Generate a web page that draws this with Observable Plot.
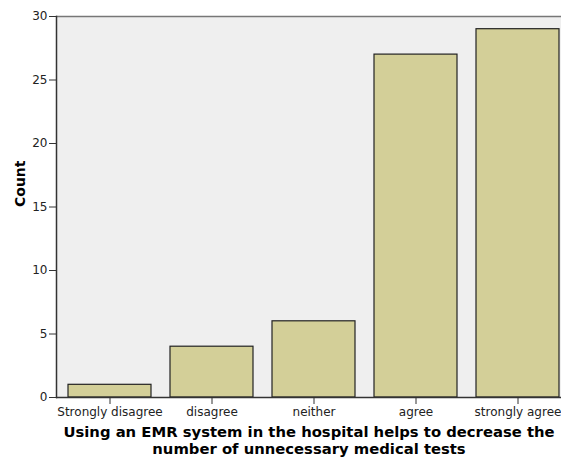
<!DOCTYPE html>
<html>
<head>
<meta charset="utf-8">
<script src="https://cdn.jsdelivr.net/npm/d3@7"></script>
<script src="https://cdn.jsdelivr.net/npm/@observablehq/plot@0.6"></script>
<style>
  html, body { margin: 0; padding: 0; background: #ffffff; }
  svg { display: block; }
</style>
</head>
<body>
<div id="chart"></div>
<script>
const categories = ["Strongly disagree", "disagree", "neither", "agree", "strongly agree"];
const counts = [1, 4, 6, 27, 29];
const yTicks = [0, 5, 10, 15, 20, 25, 30];
const xTitle = "Using an EMR system in the hospital helps to decrease the\nnumber of unnecessary medical tests";
const yTitle = "Count";

const data = categories.map((c, i) => ({category: c, count: counts[i]}));

const chart = Plot.plot({
  width: 561,
  height: 459,
  marginTop: 16,
  marginBottom: 62,
  marginLeft: 56,
  marginRight: 0,
  style: {fontFamily: "DejaVu Sans, sans-serif", fontSize: "12px", color: "#222", background: "#ffffff"},
  x: {domain: categories, range: [56, 571], paddingInner: 0.19, paddingOuter: 0.1, label: null},
  y: {domain: [0, 30], label: null},
  marks: [
    Plot.frame({fill: "#efefef", stroke: null}),
    Plot.ruleY([30], {stroke: "#777", strokeWidth: 1.5}),
    Plot.barY(data, {x: "category", y: "count", fill: "#d3cf98", stroke: "#222", strokeWidth: 1.2}),
    Plot.frame({anchor: "left", stroke: "#333", strokeWidth: 1.5}),
    Plot.ruleY([0], {stroke: "#333", strokeWidth: 1.5}),
    Plot.axisY({ticks: yTicks, tickSize: 7, tickPadding: 2, stroke: "#333", fontSize: 12, label: null}),
    Plot.axisX({tickSize: 7, tickPadding: 3, stroke: "#333", fontSize: 12, label: null}),
    Plot.text([xTitle], {frameAnchor: "bottom", dy: 56, fontSize: 14.8, fontWeight: "bold", lineHeight: 1.1, textAnchor: "middle", fill: "#000"}),
    Plot.text([yTitle], {frameAnchor: "left", dx: -36, rotate: -90, fontSize: 14, fontWeight: "bold", fill: "#000"})
  ]
});
document.getElementById("chart").appendChild(chart);
</script>
</body>
</html>
